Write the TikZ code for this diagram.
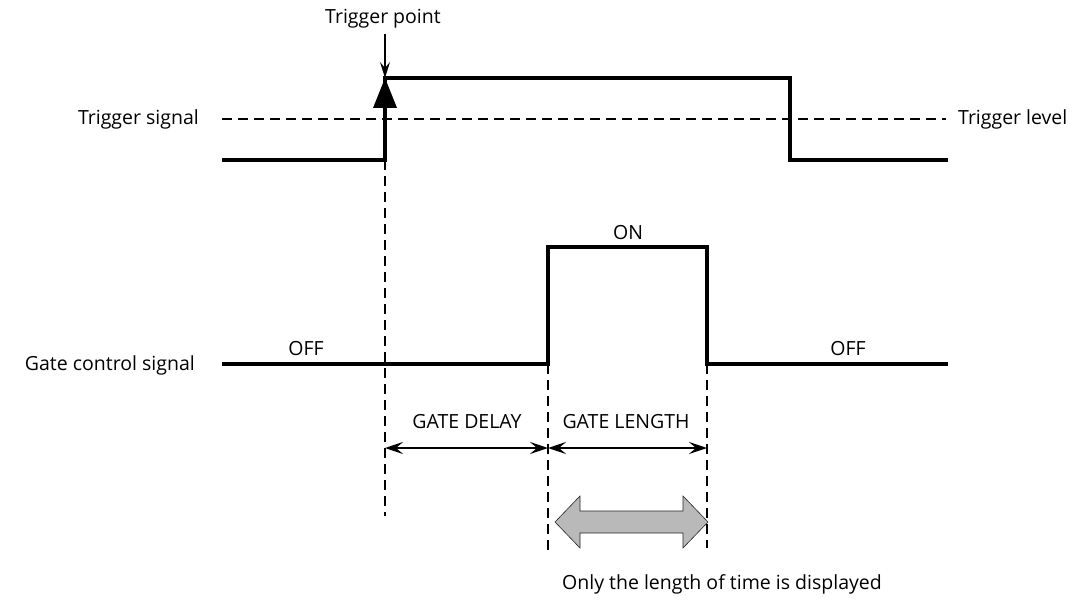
\documentclass[tikz,border=0pt]{standalone}
\usepackage{fontspec}
\setmainfont{Open Sans}
\usetikzlibrary{arrows.meta}
\begin{document}
\begin{tikzpicture}[x=1pt,y=-1pt,
  sig/.style={line width=4pt,line cap=butt,line join=miter},
  guide/.style={line width=2pt,dash pattern=on 10pt off 6pt},
  dim/.style={line width=2pt,{Stealth[length=18pt,width=12pt,inset=7pt]}-{Stealth[length=18pt,width=12pt,inset=7pt]}},
  lbl/.style={font=\fontsize{19.5}{22}\selectfont,inner sep=0pt}]
\useasboundingbox (0,0) rectangle (1090,607);
% trigger signal
\coordinate (t0) at (222,160);
\coordinate (t1) at (385,160);
\coordinate (t2) at (385,78);
\coordinate (t3) at (790,78);
\coordinate (t4) at (790,160);
\coordinate (t5) at (948,160);
\draw[sig] (t0) -- (t1) -- (t2) -- (t3) -- (t4) -- (t5);
% trigger level
\coordinate (l0) at (222,119);
\coordinate (l1) at (946,119);
\draw[guide] (l0) -- (l1);
\node[lbl,anchor=west] (tlevel) at (958,119) {Trigger level};
\node[lbl,anchor=east] (tsig) at (199,119) {Trigger signal};
% trigger point
\node[lbl] (tpoint) at (383,19) {Trigger point};
\draw[line width=1.5pt,-{Stealth[length=16pt,width=10pt,inset=6pt]}] (385,34) -- (t2);
\fill (t2) -- (397,108) -- (373,108) -- cycle;
% gate control signal
\coordinate (g0) at (222,364);
\coordinate (g1) at (548,364);
\coordinate (g2) at (548,247);
\coordinate (g3) at (707,247);
\coordinate (g4) at (707,364);
\coordinate (g5) at (948,364);
\draw[sig] (g0) -- (g1) -- (g2) -- (g3) -- (g4) -- (g5);
\node[lbl,anchor=east] (gsig) at (195,365) {Gate control signal};
\node[lbl] (offl) at (306,349) {OFF};
\node[lbl] (on) at (628,233) {ON};
\node[lbl] (offr) at (848,349) {OFF};
% guides
\coordinate (d0) at (385,516);
\coordinate (d1) at (548,556);
\coordinate (d2) at (707,548);
\draw[guide] (t1) -- (d0);
\draw[guide] (g1) -- (d1);
\draw[guide] (g4) -- (d2);
% dimension arrows
\coordinate (a0) at (385,448);
\coordinate (a1) at (548,448);
\coordinate (a2) at (707,448);
\draw[dim] (a0) -- (a1);
\draw[dim] (a1) -- (a2);
\node[lbl] (gdelay) at (467,422) {GATE DELAY};
\node[lbl] (glength) at (626,422) {GATE LENGTH};
% thick hatched arrow
\fill[gray!55,draw=gray!30!black,line width=0.6pt]
  (555,522) -- (580,496) -- (580,511) -- (683,511) -- (683,496) -- (708,522)
  -- (683,548) -- (683,533) -- (580,533) -- (580,548) -- cycle;
\node[lbl] (note) at (722,584) {Only the length of time is displayed};
\end{tikzpicture}
\end{document}
